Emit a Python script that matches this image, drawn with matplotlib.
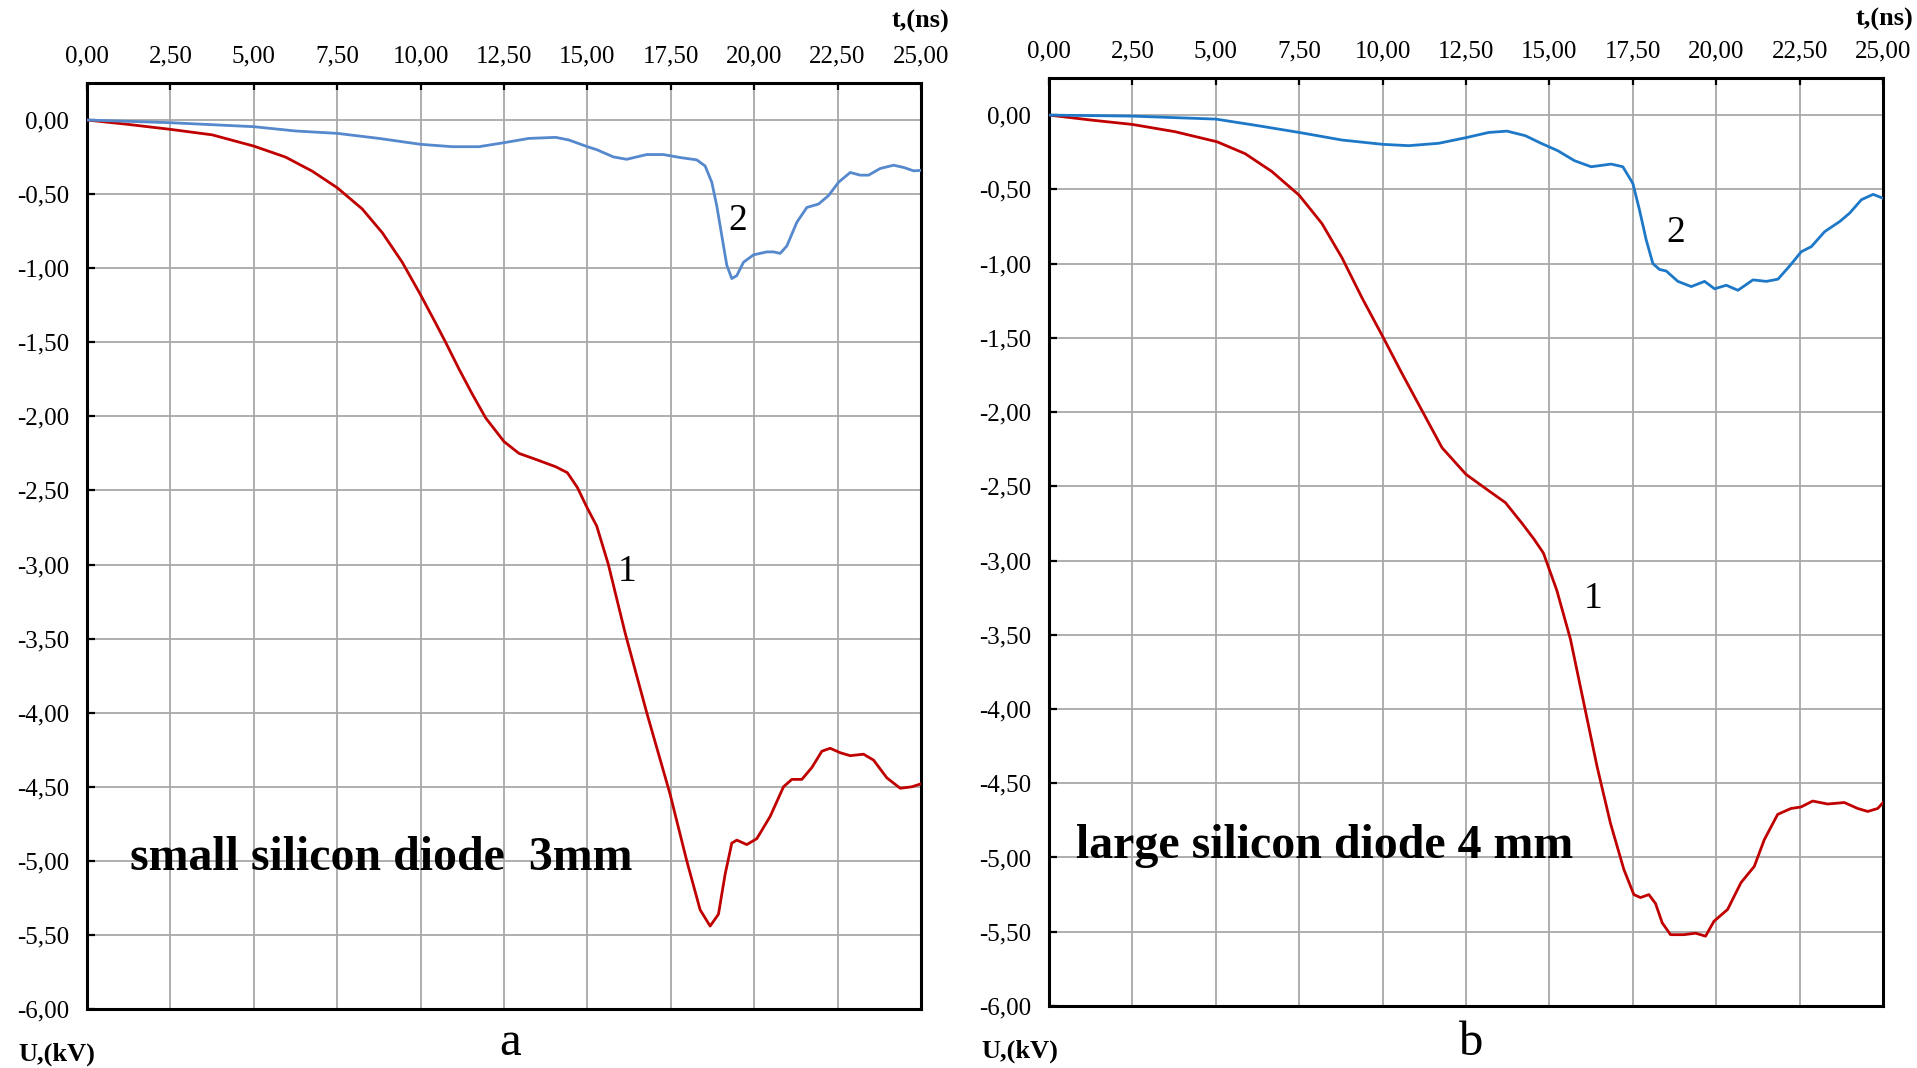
import numpy as np
import matplotlib
matplotlib.use('Agg')
import matplotlib.pyplot as plt
from matplotlib.ticker import FuncFormatter

plt.rcParams['font.family'] = ['Liberation Serif', 'DejaVu Serif']

# ---- data: panel a (small silicon diode 3 mm) ----
t_a1 = [0, 1.25, 2.5, 3.75, 5, 5.95, 6.75, 7.5, 8.25, 8.85, 9.45, 10, 10.45, 10.75, 11.15,
        11.55, 11.95, 12.5, 12.95, 13.45, 14.05, 14.4, 14.7, 15, 15.28, 15.63, 16.13, 16.78,
        17.48, 17.98, 18.38, 18.68, 18.93, 19.13, 19.33, 19.48, 19.78, 20.08, 20.48, 20.88,
        21.13, 21.43, 21.73, 22.03, 22.28, 22.58, 22.88, 23.28, 23.58, 23.98, 24.38, 24.73, 25]
u_a1 = [0, -0.03, -0.063, -0.10, -0.176, -0.25, -0.345, -0.457, -0.60, -0.76, -0.96, -1.18,
        -1.37, -1.50, -1.68, -1.85, -2.01, -2.17, -2.25, -2.29, -2.34, -2.38, -2.48, -2.62,
        -2.74, -3.0, -3.46, -4.0, -4.55, -5.0, -5.33, -5.44, -5.36, -5.09, -4.88, -4.86,
        -4.89, -4.85, -4.70, -4.50, -4.45, -4.45, -4.37, -4.26, -4.24, -4.27, -4.29, -4.28,
        -4.32, -4.44, -4.51, -4.50, -4.48]

t_a2 = [0, 2.5, 5, 6.25, 7.5, 8.75, 10, 10.95, 11.75, 12.5, 13.25, 14.05, 14.45, 15.0, 15.28,
        15.78, 16.18, 16.78, 17.28, 17.78, 18.28, 18.53, 18.73, 18.88, 19.03, 19.18, 19.33,
        19.48, 19.68, 19.98, 20.38, 20.58, 20.78, 20.98, 21.28, 21.58, 21.93, 22.23, 22.53,
        22.88, 23.18, 23.43, 23.78, 24.18, 24.48, 24.78, 25]
u_a2 = [0, -0.018, -0.045, -0.074, -0.09, -0.124, -0.164, -0.18, -0.18, -0.153, -0.124,
        -0.117, -0.135, -0.18, -0.20, -0.249, -0.265, -0.233, -0.233, -0.253, -0.269, -0.31,
        -0.42, -0.58, -0.78, -0.98, -1.07, -1.05, -0.96, -0.91, -0.89, -0.89, -0.90, -0.85,
        -0.69, -0.59, -0.567, -0.51, -0.42, -0.354, -0.372, -0.372, -0.327, -0.305, -0.32,
        -0.343, -0.34]

# ---- data: panel b (large silicon diode 4 mm) ----
t_b1 = [0, 1.28, 2.5, 3.78, 5.04, 5.88, 6.68, 7.5, 8.18, 8.78, 9.38, 10, 10.58, 11.18, 11.78,
        12.5, 13.18, 13.68, 14.18, 14.55, 14.82, 15.22, 15.63, 16.03, 16.43, 16.83, 17.23,
        17.53, 17.73, 17.98, 18.18, 18.38, 18.63, 19.03, 19.38, 19.68, 19.93, 20.34, 20.74,
        21.14, 21.44, 21.84, 22.24, 22.54, 22.89, 23.34, 23.84, 24.24, 24.54, 24.84, 25]
u_b1 = [0, -0.034, -0.063, -0.112, -0.18, -0.26, -0.38, -0.54, -0.73, -0.96, -1.23, -1.49,
        -1.74, -1.99, -2.24, -2.42, -2.53, -2.61, -2.75, -2.86, -2.95, -3.20, -3.53, -3.96,
        -4.39, -4.77, -5.08, -5.25, -5.27, -5.25, -5.31, -5.44, -5.52, -5.52, -5.51, -5.53,
        -5.43, -5.35, -5.17, -5.06, -4.88, -4.71, -4.67, -4.66, -4.62, -4.64, -4.63, -4.67,
        -4.69, -4.67, -4.63]

t_b2 = [0, 2.5, 5, 6.28, 7.5, 8.78, 10, 10.78, 11.68, 12.5, 13.18, 13.73, 14.28, 14.75, 15.25,
        15.75, 16.25, 16.85, 17.2, 17.5, 17.7, 17.9, 18.1, 18.3, 18.5, 18.85, 19.25, 19.65,
        19.95, 20.3, 20.65, 21.1, 21.5, 21.85, 22.2, 22.55, 22.85, 23.25, 23.7, 24.0, 24.35,
        24.7, 25]
u_b2 = [0, -0.007, -0.027, -0.072, -0.117, -0.168, -0.197, -0.206, -0.19, -0.152, -0.117,
        -0.108, -0.139, -0.19, -0.24, -0.307, -0.348, -0.33, -0.348, -0.46, -0.64, -0.84,
        -1.0, -1.04, -1.05, -1.12, -1.155, -1.12, -1.17, -1.146, -1.18, -1.11, -1.12, -1.105,
        -1.016, -0.92, -0.886, -0.785, -0.717, -0.66, -0.57, -0.534, -0.56]

x_ticks = np.arange(0, 25.01, 2.5)
y_ticks = np.arange(-6, 0.01, 0.5)

RED = '#C00000'
BLUE_A = '#5588CC'
BLUE_B = '#1E78C8'

fmt = FuncFormatter(lambda v, p: ('%.2f' % (0.0 if abs(v) < 1e-9 else v)).replace('.', ','))

fig = plt.figure(figsize=(19.17, 10.68), dpi=100)
ax_a = fig.add_axes([0.0454, 0.0552, 0.4350, 0.8671])
ax_b = fig.add_axes([0.5472, 0.0581, 0.4351, 0.8689])

panels = [
    (ax_a, t_a1, u_a1, t_a2, u_a2, BLUE_A, 'small silicon diode  3mm', (1.3, -4.98),
     (16.2, -3.05), (19.5, -0.68)),
    (ax_b, t_b1, u_b1, t_b2, u_b2, BLUE_B, 'large silicon diode 4 mm', (0.8, -4.92),
     (16.3, -3.26), (18.8, -0.79)),
]

for ax, t1, u1, t2, u2, bcol, title, tpos, p1, p2 in panels:
    ax.plot(t1, u1, color=RED, lw=2.0, zorder=3, solid_joinstyle='round')
    ax.plot(t2, u2, color=bcol, lw=2.0, zorder=3, solid_joinstyle='round')
    ax.set_xlim(0, 25)
    ax.set_ylim(-6, 0.25)
    ax.set_xticks(x_ticks)
    ax.set_yticks(y_ticks)
    ax.xaxis.set_major_formatter(fmt)
    ax.yaxis.set_major_formatter(fmt)
    ax.xaxis.tick_top()
    ax.tick_params(axis='x', direction='in', length=5, width=1.6, pad=11, labelsize=18)
    ax.tick_params(axis='y', direction='in', length=6, width=1.6, pad=13, labelsize=18)
    ax.grid(True, color='#a8a8a8', lw=1.3, zorder=0)
    for s in ax.spines.values():
        s.set_linewidth(2.2)
        s.set_color('black')
    ax.text(tpos[0], tpos[1], title, fontsize=34.5, fontweight='bold', va='center', ha='left',
            zorder=4)
    ax.text(p1[0], p1[1], '1', fontsize=27, va='center', ha='center', zorder=4)
    ax.text(p2[0], p2[1], '2', fontsize=27, va='center', ha='center', zorder=4)

# axis captions and panel letters (figure coordinates)
fig.text(920 / 1917, 1 - 21 / 1068, 't,(ns)', fontsize=19, fontweight='bold', ha='center', va='center')
fig.text(1884 / 1917, 1 - 19 / 1068, 't,(ns)', fontsize=19, fontweight='bold', ha='center', va='center')
fig.text(57 / 1917, 1 - 1054 / 1068, 'U,(kV)', fontsize=19, fontweight='bold', ha='center', va='center')
fig.text(1020 / 1917, 1 - 1051 / 1068, 'U,(kV)', fontsize=19, fontweight='bold', ha='center', va='center')
fig.text(510 / 1917, 1 - 1055 / 1068, 'a', fontsize=35, ha='center', va='baseline')
fig.text(1471 / 1917, 1 - 1055 / 1068, 'b', fontsize=35, ha='center', va='baseline')

fig.savefig('out.png', dpi=100)
